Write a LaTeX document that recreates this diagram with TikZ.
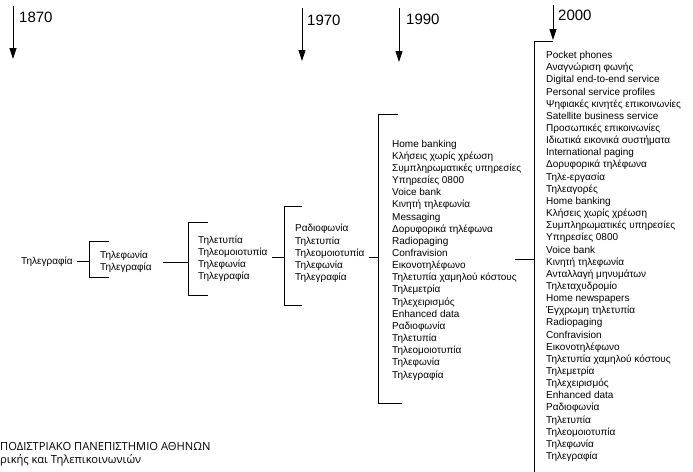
\documentclass[tikz,border=0pt]{standalone}
\usepackage{fontspec}
\setmainfont{Liberation Sans}
\newfontfamily\footfont{Open Sans}
\usetikzlibrary{arrows.meta}

\begin{document}
\begin{tikzpicture}[x=1pt, y=-1pt,
    every node/.style={inner sep=0pt, font=\fontsize{10}{12.15}\selectfont},
    list/.style={anchor=west, align=left},
    year/.style={anchor=west, font=\fontsize{15}{17}\selectfont},
    timearrow/.style={line width=0.8pt, -{Triangle[width=7pt, length=11pt]}},
    bracket/.style={line width=1pt},
    link/.style={line width=0.8pt}]
  \useasboundingbox (0,0) rectangle (693,471);

  % time axis: years
  \coordinate (y1870) at (13,6);
  \coordinate (y1970) at (302,8);
  \coordinate (y1990) at (399,8);
  \coordinate (y2000) at (553,5);
  \draw[timearrow] (y1870) -- ++(0,53);
  \draw[timearrow] (y1970) -- ++(0,53);
  \draw[timearrow] (y1990) -- ++(0,54);
  \draw[timearrow] (y2000) -- ++(0,35);
  \node[year] (l1870) at (19,17) {1870};
  \node[year] (l1970) at (307,20) {1970};
  \node[year] (l1990) at (406,19) {1990};
  \node[year] (l2000) at (558,15) {2000};

  % services, one column per stage
  \node[list] (s0) at (21,262) {Τηλεγραφία};
  \node[list] (s1) at (100,262) {Τηλεφωνία\\Τηλεγραφία};
  \node[list] (s2) at (198,258.5) {Τηλετυπία\\Τηλεομοιοτυπία\\Τηλεφωνία\\Τηλεγραφία};
  \node[list] (s3) at (295,253.5) {Ραδιοφωνία\\Τηλετυπία\\Τηλεομοιοτυπία\\Τηλεφωνία\\Τηλεγραφία};
  \node[list] (s4) at (392,260) {Home banking\\Κλήσεις χωρίς χρέωση\\Συμπληρωματικές υπηρεσίες\\Υπηρεσίες 0800\\Voice bank\\Κινητή τηλεφωνία\\Messaging\\Δορυφορικά τηλέφωνα\\Radiopaging\\Confravision\\Εικονοτηλέφωνο\\Τηλετυπία χαμηλού κόστους\\Τηλεμετρία\\Τηλεχειρισμός\\Enhanced data\\Ραδιοφωνία\\Τηλετυπία\\Τηλεομοιοτυπία\\Τηλεφωνία\\Τηλεγραφία};
  \node[list] (s5) at (546,256.5) {Pocket phones\\Αναγνώριση φωνής\\Digital end-to-end service\\Personal service profiles\\Ψηφιακές κινητές επικοινωνίες\\Satellite business service\\Προσωπικές επικοινωνίες\\Ιδιωτικά εικονικά συστήματα\\International paging\\Δορυφορικά τηλέφωνα\\Τηλε-εργασία\\Τηλεαγορές\\Home banking\\Κλήσεις χωρίς χρέωση\\Συμπληρωματικές υπηρεσίες\\Υπηρεσίες 0800\\Voice bank\\Κινητή τηλεφωνία\\Ανταλλαγή μηνυμάτων\\Τηλεταχυδρομίο\\Home newspapers\\Έγχρωμη τηλετυπία\\Radiopaging\\Confravision\\Εικονοτηλέφωνο\\Τηλετυπία χαμηλού κόστους\\Τηλεμετρία\\Τηλεχειρισμός\\Enhanced data\\Ραδιοφωνία\\Τηλετυπία\\Τηλεομοιοτυπία\\Τηλεφωνία\\Τηλεγραφία};

  % brackets (top, bottom)
  \coordinate (b1t) at (89,241);  \coordinate (b1b) at (89,277);
  \coordinate (b2t) at (188,222); \coordinate (b2b) at (188,295);
  \coordinate (b3t) at (284,206); \coordinate (b3b) at (284,305);
  \coordinate (b4t) at (378,114); \coordinate (b4b) at (378,403);
  \coordinate (b5t) at (534,41);  \coordinate (b5b) at (534,472);
  \draw[bracket] ([xshift=20pt]b1t) -- (b1t) -- (b1b) -- ++(20,0);
  \draw[bracket] ([xshift=20pt]b2t) -- (b2t) -- (b2b) -- ++(20,0);
  \draw[bracket] ([xshift=18pt]b3t) -- (b3t) -- (b3b) -- ++(18,0);
  \draw[bracket] ([xshift=20pt]b4t) -- (b4t) -- (b4b) -- ++(24,0);
  \draw[bracket] ([xshift=19pt]b5t) -- (b5t) -- (b5b);

  % links from one stage to the next
  \coordinate (j1) at (89,261);
  \coordinate (j2) at (188,262);
  \coordinate (j3) at (284,257);
  \coordinate (j4) at (378,257);
  \coordinate (j5) at (534,259);
  \draw[link] (j1 -| s0.east) ++(4,0) -- (j1);
  \draw[link] (j2 -| s1.east) ++(11,0) -- (j2);
  \draw[link] (j3 -| s2.east) ++(4,0) -- (j3);
  \draw[link] (j4 -| s3.east) ++(4,0) -- (j4);
  \draw[link] (j5 -| s4.east) ++(-6,0) -- (j5);

  % footer, cut at the left edge
  \node[anchor=west, font=\footfont\fontsize{11.2}{13}\selectfont] (uni) at (0,446) {ΠΟΔΙΣΤΡΙΑΚΟ ΠΑΝΕΠΙΣΤΗΜΙΟ ΑΘΗΝΩΝ};
  \node[anchor=west, font=\footfont\fontsize{11.2}{13}\selectfont] (dept) at (0,460) {ρικής και Τηλεπικοινωνιών};
\end{tikzpicture}
\end{document}
